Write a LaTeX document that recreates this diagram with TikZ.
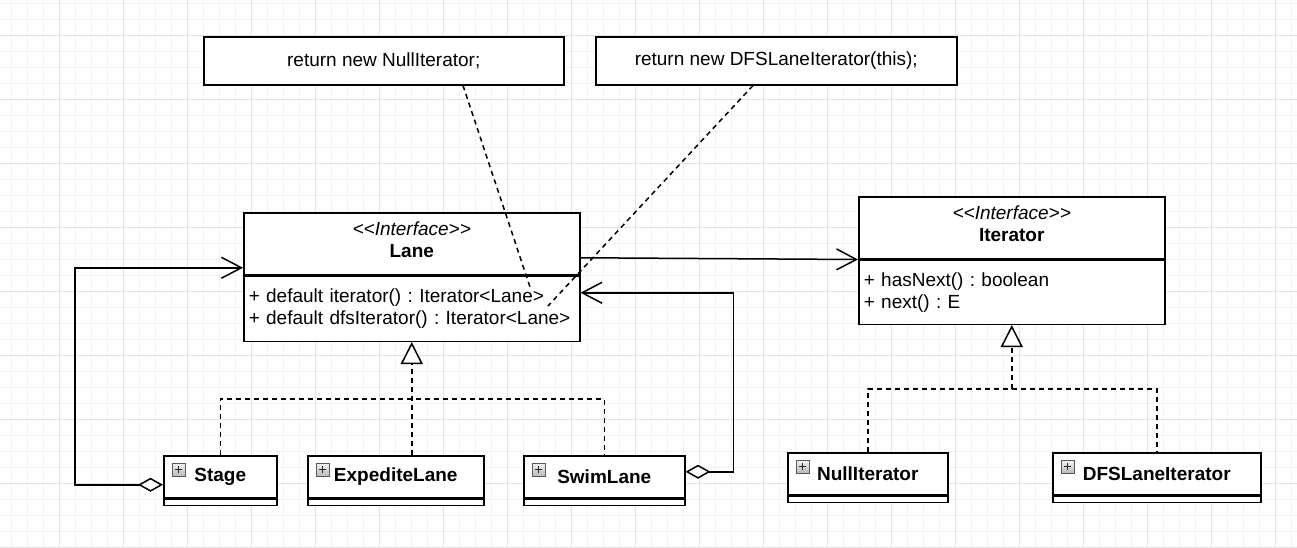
\documentclass[tikz,border=0pt]{standalone}
\usepackage{fontspec}
\setmainfont{Liberation Sans}[Ligatures=TeXOff]
\usetikzlibrary{arrows.meta,positioning}
\frenchspacing

\begin{document}
\begin{tikzpicture}[x=1pt, y=-1pt,
    every node/.style = {font=\fontsize{19}{22}\selectfont},
    box/.style = {shape=rectangle, draw, line width=1.5pt, fill=white, inner sep=0pt},
    note/.style = {box, minimum width=360pt, minimum height=48pt, anchor=north west},
    ifhead/.style = {box, align=center, minimum height=62pt, anchor=north west, inner ysep=0pt, text depth=9pt},
    ifbody/.style = {box, align=left, minimum height=65pt, anchor=north, inner xsep=5pt},
    cls/.style = {box, minimum height=42pt, anchor=north west, font=\fontsize{19}{22}\selectfont\bfseries},
    clsfoot/.style = {box, minimum height=6pt, anchor=north},
    plusicon/.style = {draw=gray!70!black, line width=0.8pt, top color=gray!10, bottom color=gray!55,
      minimum size=12.5pt, inner sep=0pt, anchor=north west,
      path picture={\draw[line width=1.5pt, black!85]
        ([xshift=-3.5pt]path picture bounding box.center) -- ([xshift=3.5pt]path picture bounding box.center)
        ([yshift=-3.5pt]path picture bounding box.center) -- ([yshift=3.5pt]path picture bounding box.center);}},
    gridminor/.style = {line width=1pt, black!5},
    gridmajor/.style = {line width=1pt, black!11},
    dashline/.style = {line width=1.5pt, dash pattern=on 5pt off 4pt},
    realize/.style = {dashline, -{Triangle[open, fill=white, length=22pt, width=22pt]}},
    assoc/.style = {line width=1.5pt, -{Straight Barb[length=20pt, width=21pt]}},
    aggr/.style = {line width=1.5pt, {Diamond[open, fill=white, length=25pt, width=14pt]}-{Straight Barb[length=20pt, width=21pt]}}]

  % background and grid
  \fill[white] (0,0) rectangle (1297,547);
  \useasboundingbox (0,0) rectangle (1297,547);
  \foreach \gx in {11.5,27.5,...,1297} \draw[gridminor] (\gx,0) -- (\gx,547);
  \foreach \gy in {3,19,...,547} \draw[gridminor] (0,\gy) -- (1297,\gy);
  \foreach \gx in {59.5,123.5,...,1297} \draw[gridmajor] (\gx,0) -- (\gx,547);
  \foreach \gy in {35,99,...,547} \draw[gridmajor] (0,\gy) -- (1297,\gy);

  % notes
  \node[note] (nullnote) at (203,36) {return new NullIterator;};
  \node[note, minimum width=361pt] (dfsnote) at (595,36) {return new DFSLaneIterator(this);};

  % interfaces
  \node[ifhead, minimum width=336pt] (lanehead) at (243,212) {\textit{<<Interface>>}\\\textbf{Lane}};
  \node[ifbody, text width=326pt, below=0pt of lanehead] (lanebody)
    {+ default iterator() : Iterator<Lane>\\+ default dfsIterator() : Iterator<Lane>};
  \node[ifhead, minimum width=306pt] (iterhead) at (858,196) {\textit{<<Interface>>}\\\textbf{Iterator}};
  \node[ifbody, text width=296pt, minimum height=64pt, below=0pt of iterhead] (iterbody)
    {+ hasNext() : boolean\\+ next() : E};

  % classes
  \foreach \name/\x/\y/\w/\txt in {stage/163/455/113/Stage, expedite/307/455/176/ExpediteLane,
      swim/523/455/161/SwimLane, nulliter/787/452/160/NullIterator, dfsiter/1052/452/208/DFSLaneIterator} {
    \node[cls, minimum width=\w pt] (\name) at (\x,\y) {\txt};
    \node[clsfoot, minimum width=\w pt] (\name-foot) at (\name.south) {};
    \node[plusicon] (\name-icon) at ([shift={(9,8)}]\name.north west) {};
  }

  % realization
  \coordinate (lanejoin) at ([shift={(0,57)}]lanebody.south);
  \draw[dashline] (stage.north) |- (lanejoin) -| (swim.north);
  \draw[realize] (lanebody.south |- expedite.north) -- (lanebody.south);
  \coordinate (iterjoin) at ([shift={(0,64)}]iterbody.south);
  \draw[dashline] (nulliter.north) |- (iterjoin) -| (dfsiter.north);
  \draw[realize] (iterjoin) -- (iterbody.south);

  % associations
  \draw[assoc] ([shift={(0,14)}]lanehead.east) -- (iterhead.south west);
  \draw[aggr] ([shift={(0,8)}]stage.west) -- ++(-88,0) |- ([shift={(0,24)}]lanehead.west);
  \draw[aggr] ([shift={(0,-5)}]swim.east) -- ++(48,0) |- ([shift={(0,-16)}]lanebody.east);

  % note links
  \coordinate (iterend) at (531,290);
  \coordinate (dfsend) at (548,306);
  \draw[dashline] ([shift={(260,0)}]nullnote.south west) -- (iterend);
  \draw[dashline] ([shift={(158,0)}]dfsnote.south west) -- (dfsend);
\end{tikzpicture}
\end{document}
